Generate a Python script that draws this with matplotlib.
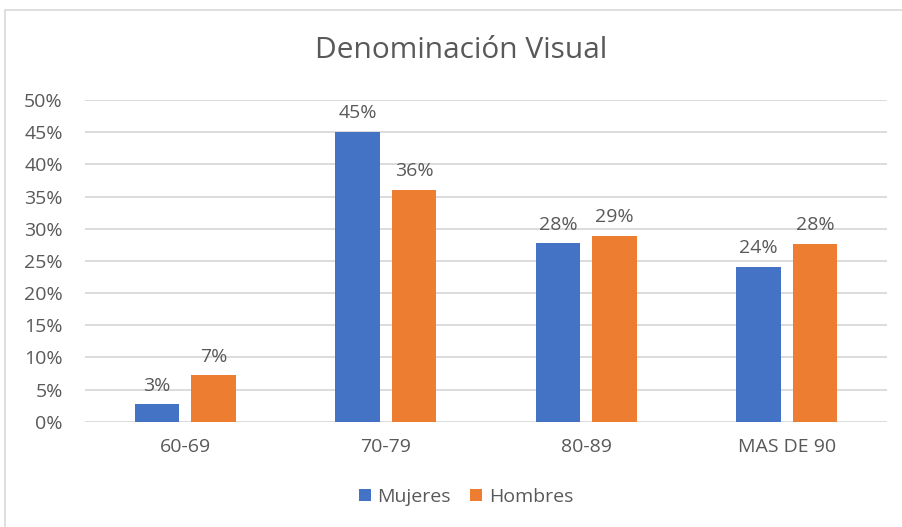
import matplotlib
matplotlib.use("Agg")
import matplotlib.pyplot as plt
from matplotlib.patches import Rectangle
import numpy as np

categories = ["60-69", "70-79", "80-89", "MAS DE 90"]
mujeres = [2.7, 45.0, 27.7, 24.1]
hombres = [7.2, 36.0, 28.9, 27.6]
series_names = ["Mujeres", "Hombres"]
colors = ["#4472C4", "#ED7D31"]
yticks = [0, 5, 10, 15, 20, 25, 30, 35, 40, 45, 50]

plt.rcParams['font.family'] = ['Open Sans', 'DejaVu Sans']
text_color = "#595959"
fs = 14

W, H = 902, 527
fig = plt.figure(figsize=(W / 100, H / 100), dpi=100)
ax = fig.add_axes([85 / W, 1 - 421.7 / H, 802 / W, (421.7 - 100) / H])

# outer chart frame
fig.patches.append(Rectangle((5 / W, -0.05), 1.2, 1 - 10 / H + 0.05,
                             transform=fig.transFigure, fill=False,
                             edgecolor="#D9D9D9", linewidth=1.2))

x = np.arange(len(categories))
bw = 0.223
off = 0.1415
for vals, name, c, sgn in [(mujeres, series_names[0], colors[0], -1),
                           (hombres, series_names[1], colors[1], 1)]:
    bars = ax.bar(x + sgn * off, vals, width=bw, color=c, label=name, zorder=3)
    for b, v in zip(bars, vals):
        ax.annotate(f"{v:.0f}%", (b.get_x() + b.get_width() / 2, v),
                    xytext=(0, 7), textcoords="offset points",
                    ha="center", va="bottom", fontsize=fs, color=text_color)

ax.set_xlim(-0.5, 3.5)
ax.set_ylim(0, 50)
ax.set_yticks(yticks)
ax.set_yticklabels([f"{t}%" for t in yticks], fontsize=fs, color=text_color)
ax.set_xticks(x)
ax.set_xticklabels(categories, fontsize=fs, color=text_color)
ax.tick_params(axis="both", length=0)
ax.tick_params(axis="y", pad=16)
ax.tick_params(axis="x", pad=12)
ax.grid(axis="y", color="#D9D9D9", linewidth=1.3, zorder=0)
ax.set_axisbelow(True)
for s in ax.spines.values():
    s.set_visible(False)

fig.text(461 / W, 1 - 51 / H, "Denominación Visual", ha="center", va="center",
         fontsize=21.5, color=text_color)

leg = fig.legend(loc="center", bbox_to_anchor=(466 / W, 1 - 497 / H),
                 ncol=2, frameon=False, fontsize=fs, handlelength=0.6,
                 handleheight=0.6, handletextpad=0.35, columnspacing=1.0)
for t in leg.get_texts():
    t.set_color(text_color)

fig.savefig("out.png", dpi=100, facecolor="white")
